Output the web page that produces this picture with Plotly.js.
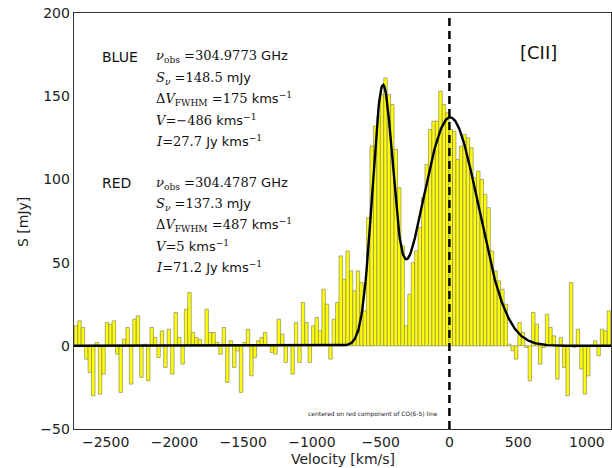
<!DOCTYPE html>
<html>
<head>
<meta charset="utf-8">
<script src="https://cdn.plot.ly/plotly-3.0.1.min.js"></script>
<style>html,body{margin:0;padding:0;background:#fff;}#chart{width:612px;height:468px;}</style>
</head>
<body>
<div id="chart"></div>
<script>
// Velocity channels: first channel centre and channel width (km/s)
const channelStart = -2715;
const channelWidth = 25;
// Flux density per channel [mJy]
const fluxValues = [
  12, 15, 11, -8, -16, -30, 2, -29, -17, 14,
  13, 15, -5, -28, 4, 11, -23, 16, 18, -19,
  1, -21, 11, 5, -7, 9, -13, 10, -17, 20,
  5, -11, 22, 32, 8, 5, 4, 0, 22, 8,
  8, 2, -5, 11, -22, 3, -13, -3, -28, 2,
  10, -18, -7, 3, 5, 8, 0, -4, -5, 16,
  7, -10, 0, -17, 14, -10, 26, 14, -10, 12,
  17, 9, 34, 25, -8, 16, 26, 54, 40, 57,
  45, 33, 45, 38, 21, 77, 120, 132, 138, 151,
  161, 151, 145, 118, 95, 60, 12, 31, 50, 57,
  71, 89, 109, 130, 135, 135, 153, 145, 140, 130,
  129, 112, 120, 127, 125, 119, 101, 105, 100, 91,
  83, 57, 45, 39, 34, 25, 1, -3, -8, 14,
  8, -1, -21, 20, 13, -11, -1, 19, 11, 6,
  -20, 5, -13, -30, 38, -1, 10, -14, -29, -18,
  0, 3, -6, 10, 9, 21
];
// Two-Gaussian fit parameters (BLUE, RED)
const fitAmp = [148.5, 137.3];
const fitCenter = [-486, 5];
const fitFWHM = [175, 487];
const xTicks = [-2500, -2000, -1500, -1000, -500, 0, 500, 1000];
const yTicks = [-50, 0, 50, 100, 150, 200];
const xRange = [-2730, 1175];
const yRange = [-50, 200];

const blueLines = [
  '<i>ν</i><sub>obs</sub> =304.9773 <span style="font-family:DejaVu Sans">GHz</span>',
  '<i>S</i><sub><i>ν</i></sub> =148.5 <span style="font-family:DejaVu Sans">mJy</span>',
  'Δ<i>V</i><sub>FWHM</sub> =175 <span style="font-family:DejaVu Sans">kms</span><sup>−1</sup>',
  '<i>V</i>=−486 <span style="font-family:DejaVu Sans">kms</span><sup>−1</sup>',
  '<i>I</i>=27.7 <span style="font-family:DejaVu Sans">Jy kms</span><sup>−1</sup>'
];
const redLines = [
  '<i>ν</i><sub>obs</sub> =304.4787 <span style="font-family:DejaVu Sans">GHz</span>',
  '<i>S</i><sub><i>ν</i></sub> =137.3 <span style="font-family:DejaVu Sans">mJy</span>',
  'Δ<i>V</i><sub>FWHM</sub> =487 <span style="font-family:DejaVu Sans">kms</span><sup>−1</sup>',
  '<i>V</i>=5 <span style="font-family:DejaVu Sans">kms</span><sup>−1</sup>',
  '<i>I</i>=71.2 <span style="font-family:DejaVu Sans">Jy kms</span><sup>−1</sup>'
];

// fit curve sampled on a fine velocity grid from the fit parameters
const fitX = [], fitY = [];
for (let v = xRange[0]; v <= xRange[1]; v += 5) {
  let s = 0;
  for (let k = 0; k < fitAmp.length; k++) {
    const sig = fitFWHM[k] / 2.3548;
    s += fitAmp[k] * Math.exp(-Math.pow(v - fitCenter[k], 2) / (2 * sig * sig));
  }
  fitX.push(v); fitY.push(s);
}

const W = 612, H = 468, mL = 74, mR = 1, mT = 13, mB = 39;
const pw = W - mL - mR, ph = H - mT - mB;
const px = x => (x - mL) / pw;
const py = y => (H - mB - y) / ph;

const ann = [];
const serif = {family: 'DejaVu Serif, serif', size: 13, color: '#111'};
const sans = {family: 'DejaVu Sans, sans-serif', size: 14, color: '#111'};
ann.push({text: 'BLUE', x: px(100), y: py(57), xref: 'paper', yref: 'paper', xanchor: 'left', yanchor: 'middle', showarrow: false, font: sans});
ann.push({text: 'RED', x: px(100), y: py(183), xref: 'paper', yref: 'paper', xanchor: 'left', yanchor: 'middle', showarrow: false, font: sans});
blueLines.forEach((t, i) => ann.push({text: t, x: px(154), y: py(57 + i * 21), xref: 'paper', yref: 'paper', xanchor: 'left', yanchor: 'middle', showarrow: false, font: serif}));
redLines.forEach((t, i) => ann.push({text: t, x: px(154), y: py(183 + i * 21), xref: 'paper', yref: 'paper', xanchor: 'left', yanchor: 'middle', showarrow: false, font: serif}));
ann.push({text: '[CII]', x: px(538), y: py(52), xref: 'paper', yref: 'paper', xanchor: 'center', yanchor: 'middle', showarrow: false, font: {family: 'DejaVu Sans, sans-serif', size: 18, color: '#111'}});
ann.push({text: 'centered on red component of CO(6-5) line', x: px(440), y: py(414), xref: 'paper', yref: 'paper', xanchor: 'right', yanchor: 'middle', showarrow: false, font: {family: 'DejaVu Sans, sans-serif', size: 6, color: '#222'}});
// axis titles
ann.push({text: 'Velocity [km/s]', x: px(343), y: py(459), xref: 'paper', yref: 'paper', xanchor: 'center', yanchor: 'middle', showarrow: false, font: {family: 'DejaVu Sans, sans-serif', size: 14, color: '#222'}});
ann.push({text: 'S [mJy]', x: px(23), y: py(222), xref: 'paper', yref: 'paper', xanchor: 'center', yanchor: 'middle', textangle: -90, showarrow: false, font: {family: 'DejaVu Sans, sans-serif', size: 14, color: '#222'}});

const data = [
  {type: 'bar', x0: channelStart, dx: channelWidth, y: fluxValues,
   marker: {color: '#ffff00', line: {color: '#8a8a6a', width: 0.7}}, hoverinfo: 'skip'},
  {type: 'scatter', mode: 'lines', x: fitX, y: fitY, line: {color: '#000', width: 2.4}, hoverinfo: 'skip'}
];

const layout = {
  width: W, height: H,
  margin: {l: mL, r: mR, t: mT, b: mB, pad: 0},
  paper_bgcolor: '#fff', plot_bgcolor: '#fff',
  showlegend: false, bargap: 0,
  font: {family: 'DejaVu Sans, sans-serif', size: 14, color: '#222'},
  xaxis: {range: xRange, tickvals: xTicks, ticks: '', showgrid: false, zeroline: false,
          showline: true, mirror: true, linecolor: '#333', linewidth: 1.3,
          tickfont: {size: 14, color: '#222'}},
  yaxis: {range: yRange, tickvals: yTicks, ticks: '', showgrid: false, zeroline: false,
          showline: true, mirror: true, linecolor: '#333', linewidth: 1.3,
          tickfont: {size: 14, color: '#222'}},
  shapes: [{type: 'line', xref: 'x', yref: 'paper', x0: 0, x1: 0, y0: 0, y1: 1,
            line: {color: '#000', width: 2.5, dash: '8px,5px'}}],
  annotations: ann
};

Plotly.newPlot('chart', data, layout, {staticPlot: true});
</script>
</body>
</html>
